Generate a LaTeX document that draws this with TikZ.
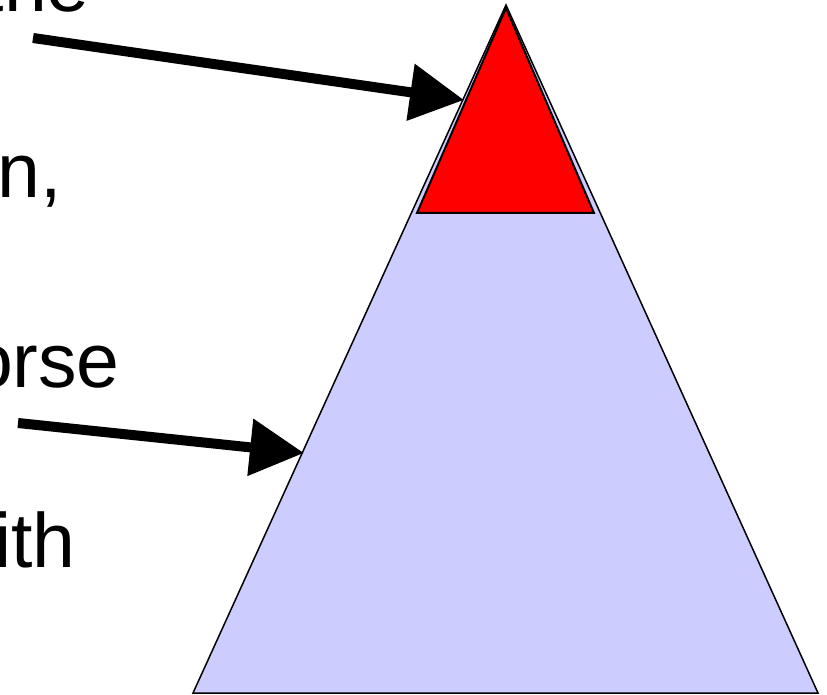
\documentclass[tikz,border=0pt]{standalone}
\usepackage{fontspec}
\setmainfont{Liberation Sans}
\usetikzlibrary{arrows.meta}
\definecolor{lav}{HTML}{CCCCFF}
\tikzset{
  lbl/.style={anchor=base east, inner sep=0pt, font=\fontsize{77}{90}\selectfont},
  bigarrow/.style={line width=10pt, -{Triangle[length=54pt,width=55pt]}},
}
\begin{document}
\begin{tikzpicture}[x=1pt,y=-1pt]
\useasboundingbox (0,0) rectangle (827,695);
% large triangle
\coordinate (A) at (506,5);
\coordinate (BL) at (193,693);
\coordinate (BR) at (818,693);
\draw[fill=lav, line width=1.5pt] (A) -- (BR) -- (BL) -- cycle;
% red top triangle
\coordinate (RA) at (506,8);
\coordinate (RL) at (417,213);
\coordinate (RR) at (594,213);
\draw[fill=red, line width=2pt, line join=miter] (RA) -- (RR) -- (RL) -- cycle;
% texts
\node[lbl] (t1) at (90,12) {the};
\node[lbl] (t2) at (62,198) {n,};
\node[lbl] (t3) at (120,387) {orse};
\node[lbl] (t4) at (76,567) {ith};
% arrows
\coordinate (s1) at (33,38);
\coordinate (e1) at (464,100);
\coordinate (s2) at (18,423);
\coordinate (e2) at (304,453);
\draw[bigarrow] (s1) -- (e1);
\draw[bigarrow] (s2) -- (e2);
\end{tikzpicture}
\end{document}
